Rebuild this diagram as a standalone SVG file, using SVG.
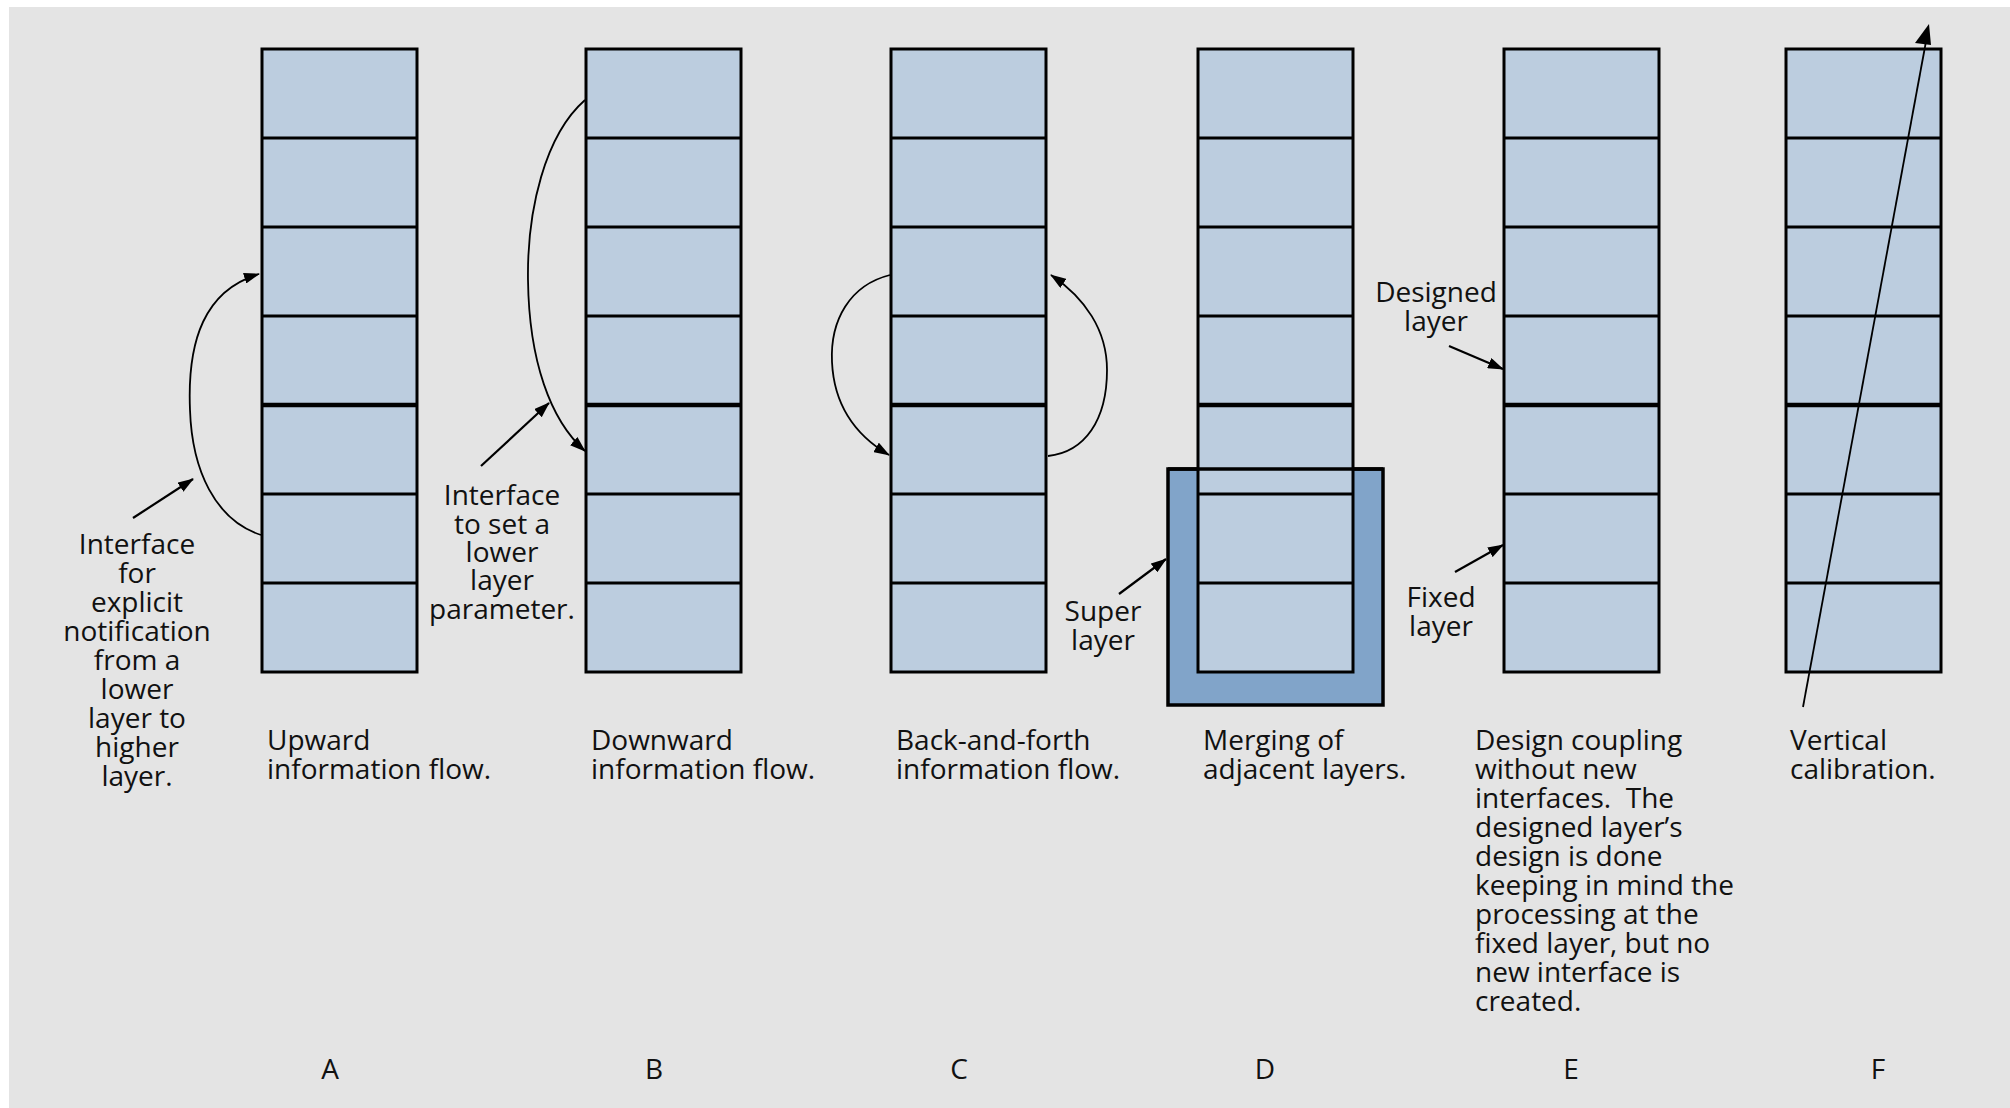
<svg xmlns="http://www.w3.org/2000/svg" width="2010" height="1108" viewBox="0 0 2010 1108">
  <style>
    .cell { fill: #bccddf; stroke: #000; stroke-width: 3; }
    .div { fill: none; stroke: #000; stroke-width: 3; }
    .thick { fill: none; stroke: #000; stroke-width: 4.5; }
    .super { fill: #81a4c9; stroke: #000; stroke-width: 3.5; }
    .conn { fill: none; stroke: #000; stroke-width: 1.8; }
    .ptr { fill: none; stroke: #000; stroke-width: 2.2; }
    text { font-family: "Open Sans", "Noto Sans", "Liberation Sans", sans-serif; font-size: 28px; fill: #111; }
    .c { text-anchor: middle; }
  </style>
  <defs>
    <marker id="ah" viewBox="0 0 16 11" refX="15" refY="5.5" markerWidth="16" markerHeight="11" markerUnits="userSpaceOnUse" orient="auto">
      <path d="M0,0 L16,5.5 L0,11 z" fill="#000"/>
    </marker>
    <g id="stack">
      <rect class="cell" x="0" y="49" width="155" height="623"/>
      <path class="div" d="M0,138H155M0,227H155M0,316H155M0,494H155M0,583H155"/>
      <path class="thick" d="M0,405H155"/>
    </g>
  </defs>

  <rect x="9" y="7" width="2001" height="1101" fill="#e4e4e4"/>

  <g id="colA"><use href="#stack" x="262"/></g>
  <g id="colB"><use href="#stack" x="586"/></g>
  <g id="colC"><use href="#stack" x="891"/></g>
  <g id="colD">
    <rect class="super" x="1168" y="469" width="215" height="236"/>
    <use href="#stack" x="1198"/>
    <path d="M1168,469H1383" stroke="#000" stroke-width="3.5" fill="none"/>
  </g>
  <g id="colE"><use href="#stack" x="1504"/></g>
  <g id="colF"><use href="#stack" x="1786"/></g>

  <g id="connectors">
    <path class="conn" d="M261,535 C215,520 192,470 190,410 C187,340 205,290 259,274" marker-end="url(#ah)"/>
    <path class="ptr" d="M133,518 L193,479" marker-end="url(#ah)"/>
    <path class="conn" d="M585,100 C545,135 527,210 528,280 C529,360 550,420 585,451" marker-end="url(#ah)"/>
    <path class="ptr" d="M481,466 L549,403" marker-end="url(#ah)"/>
    <path class="conn" d="M890,275 C850,285 830,320 832,362 C834,405 855,435 889,455" marker-end="url(#ah)"/>
    <path class="conn" d="M1048,456 C1085,452 1107,420 1107,370 C1107,330 1085,298 1051,275" marker-end="url(#ah)"/>
    <path class="ptr" d="M1119,594 L1166,559" marker-end="url(#ah)"/>
    <path class="ptr" d="M1449,346 L1503,369" marker-end="url(#ah)"/>
    <path class="ptr" d="M1455,572 L1503,545" marker-end="url(#ah)"/>
    <path class="conn" d="M1803,707 L1927,36"/>
    <polygon points="1929,24 1915,43 1931,45" fill="#000"/>
  </g>

  <g id="labels">
    <text class="c"><tspan x="137" y="554">Interface</tspan><tspan x="137" y="583">for</tspan><tspan x="137" y="612">explicit</tspan><tspan x="137" y="641">notification</tspan><tspan x="137" y="670">from a</tspan><tspan x="137" y="699">lower</tspan><tspan x="137" y="728">layer to</tspan><tspan x="137" y="757">higher</tspan><tspan x="137" y="786">layer.</tspan></text>
    <text class="c"><tspan x="502" y="505">Interface</tspan><tspan x="502" y="534">to set a</tspan><tspan x="502" y="562">lower</tspan><tspan x="502" y="590">layer</tspan><tspan x="502" y="619">parameter.</tspan></text>
    <text class="c"><tspan x="1103" y="621">Super</tspan><tspan x="1103" y="650">layer</tspan></text>
    <text class="c"><tspan x="1436" y="302">Designed</tspan><tspan x="1436" y="331">layer</tspan></text>
    <text class="c"><tspan x="1441" y="607">Fixed</tspan><tspan x="1441" y="636">layer</tspan></text>

    <text><tspan x="267" y="750">Upward</tspan><tspan x="267" y="779">information flow.</tspan></text>
    <text><tspan x="591" y="750">Downward</tspan><tspan x="591" y="779">information flow.</tspan></text>
    <text><tspan x="896" y="750">Back-and-forth</tspan><tspan x="896" y="779">information flow.</tspan></text>
    <text><tspan x="1203" y="750">Merging of</tspan><tspan x="1203" y="779">adjacent layers.</tspan></text>
    <text xml:space="preserve"><tspan x="1475" y="750">Design coupling</tspan><tspan x="1475" y="779">without new</tspan><tspan x="1475" y="808">interfaces.  The</tspan><tspan x="1475" y="837">designed layer’s</tspan><tspan x="1475" y="866">design is done</tspan><tspan x="1475" y="895">keeping in mind the</tspan><tspan x="1475" y="924">processing at the</tspan><tspan x="1475" y="953">fixed layer, but no</tspan><tspan x="1475" y="982">new interface is</tspan><tspan x="1475" y="1011">created.</tspan></text>
    <text><tspan x="1790" y="750">Vertical</tspan><tspan x="1790" y="779">calibration.</tspan></text>

    <text class="c" x="330" y="1079">A</text>
    <text class="c" x="654" y="1079">B</text>
    <text class="c" x="959" y="1079">C</text>
    <text class="c" x="1265" y="1079">D</text>
    <text class="c" x="1571" y="1079">E</text>
    <text class="c" x="1878" y="1079">F</text>
  </g>
</svg>
